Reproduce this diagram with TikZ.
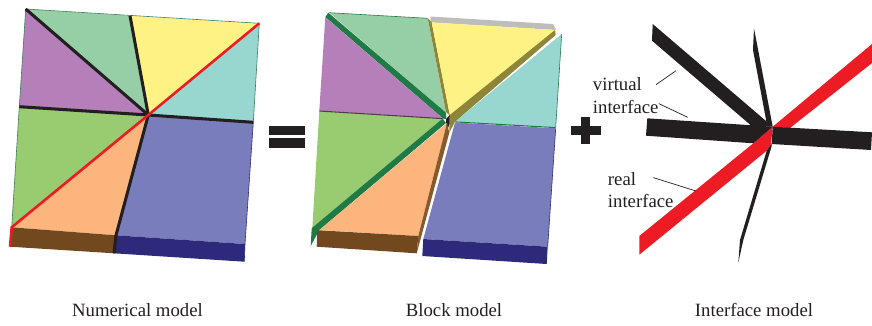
\documentclass[tikz,border=0pt]{standalone}
\usepackage{fontspec}
\setmainfont{Liberation Serif}
\usepackage{tikz}
\usetikzlibrary{calc}
\definecolor{BlockMint}{HTML}{96CFA6}
\definecolor{BlockYellow}{HTML}{FFF284}
\definecolor{BlockCyan}{HTML}{98D6D0}
\definecolor{BlockPurple}{HTML}{B57FBA}
\definecolor{BlockGreen}{HTML}{99CB70}
\definecolor{BlockOrange}{HTML}{FBB57D}
\definecolor{BlockBlue}{HTML}{7A7DBB}
\definecolor{SideBrown}{HTML}{72491F}
\definecolor{SideNavy}{HTML}{2D2A7C}
\definecolor{SideGreen}{HTML}{1F7A45}
\definecolor{SideOlive}{HTML}{8E8538}
\definecolor{SideGrey}{HTML}{BDBDBD}
\definecolor{RealRed}{HTML}{ED1C24}
\definecolor{VirtualBlack}{HTML}{231F20}
\tikzset{
    % Text styles
    caption/.style={
        anchor=base,
        inner sep=0pt,
        font=\fontsize{16}{18}\selectfont,
        text=VirtualBlack
    },
    ifacetext/.style={
        anchor=base west,
        inner sep=0pt,
        font=\fontsize{16}{18}\selectfont,
        text=VirtualBlack
    },
    % Line styles
    virtualline/.style={
        draw=VirtualBlack,
        line width=2.6pt
    },
    realline/.style={
        draw=RealRed,
        line width=2.2pt
    },
    leader/.style={
        draw=VirtualBlack,
        line width=0.6pt
    },
    edgeline/.style={
        draw=#1,
        line width=0.5pt,
        line join=round
    }
}

\begin{document}
\begin{tikzpicture}[x=0.03cm,y=-0.03cm]
    \useasboundingbox (0,0) rectangle (872,325);

    % Numerical model
    \coordinate (nc) at (148.3,115);
    \coordinate (ntl) at (25.7,9);
    \coordinate (ntm) at (130,15.7);
    \coordinate (ntr) at (259.3,23.3);
    \coordinate (nrm) at (253.3,122.3);
    \coordinate (nbr) at (245,244);
    \coordinate (nbm) at (116,235.3);
    \coordinate (nbl) at (11.7,227.3);
    \coordinate (nlm) at (19.3,106.7);
    \coordinate (nbl2) at (10,246.7);
    \coordinate (nbm2) at (114,253.3);
    \coordinate (nbr2) at (244.3,261.7);
    \fill[BlockMint] (ntl) -- (ntm) -- (nc) -- cycle;
    \fill[BlockYellow] (ntm) -- (ntr) -- (nc) -- cycle;
    \fill[BlockCyan] (ntr) -- (nrm) -- (nc) -- cycle;
    \fill[BlockBlue] (nc) -- (nrm) -- (nbr) -- (nbm) -- cycle;
    \fill[BlockOrange] (nc) -- (nbm) -- (nbl) -- cycle;
    \fill[BlockGreen] (nc) -- (nbl) -- (nlm) -- cycle;
    \fill[BlockPurple] (nc) -- (nlm) -- (ntl) -- cycle;
    \fill[SideBrown] (nbl) -- (nbm) -- (nbm2) -- (nbl2) -- cycle;
    \fill[SideNavy] (nbm) -- (nbr) -- (nbr2) -- (nbm2) -- cycle;
    \draw[edgeline=SideGreen!70!gray] (ntl) -- (ntr) -- (nrm);
    \draw[edgeline=SideGreen!70!gray] (ntl) -- (nlm) -- (nbl);
    \draw[edgeline=SideNavy] (nrm) -- (nbr) -- (nbr2);
    % Interfaces on the numerical model
    \draw[virtualline] (ntl) -- (nc);
    \draw[virtualline] (ntm) -- (nc);
    \draw[virtualline] (nlm) -- (nc) -- (nrm);
    \draw[virtualline] (nc) -- (nbm) -- (nbm2);
    \draw[realline] (ntr) -- (nc) -- (nbl) -- (nbl2);

    % Equals sign
    \fill[VirtualBlack] (269,126) rectangle (305,135);
    \fill[VirtualBlack] (269,138.3) rectangle (305,147.7);

    % Block model
    \fill[SideGrey] (430.3,16.5) -- (553,24) -- (556,30) -- (431,22.5) -- cycle;
    \fill[BlockMint] (329.3,12.7) -- (427.7,18.3) -- (446,112.7) -- cycle;
    \draw[edgeline=SideGreen] (329.3,12.7) -- (427.7,18.3);
    \fill[SideGreen] (328.3,12.7) -- (446,112.7) -- (446,119) -- (443,118.5) -- (325.3,17) -- cycle;
    \fill[BlockPurple] (325.3,17.3) -- (442.7,118.3) -- (319.3,110.7) -- cycle;
    \fill[BlockGreen] (319.3,111) -- (442.7,118.5) -- (312.3,228.3) -- cycle;
    \draw[line width=0.9pt,draw=BlockPurple!45!black] (319.3,111) -- (442.7,118.6);
    \fill[SideGreen] (442.7,118.5) -- (446,123) -- (319.3,230) -- (310.7,246) -- (311.7,228.3) -- cycle;
    \fill[SideOlive] (427.7,18) -- (431.7,22.3) -- (450,116) -- (446,112) -- cycle;
    \fill[BlockYellow] (431.7,22.3) -- (555,30) -- (449.8,115) -- cycle;
    \fill[BlockCyan] (561.7,34) -- (555.7,127.3) -- (455,121.7) -- cycle;
    \draw[edgeline=SideGreen] (561.7,34) -- (555.7,127.3);
    \draw[line width=0.9pt,draw=SideGreen] (455,121.9) -- (555.7,127.6);
    \fill[SideOlive] (555,30) -- (555.7,35) -- (455,121.7) -- (449.3,132.7) -- (449.8,115) -- cycle;
    \fill[VirtualBlack] (446,119) -- (449.8,115) -- (449.5,124) -- (446.5,132) -- cycle;
    \fill[BlockOrange] (447,123) -- (418.3,236) -- (319.3,230) -- cycle;
    \fill[SideBrown!85!BlockOrange] (447,123) -- (449.3,132.7) -- (416.7,253.3) -- (418.3,236) -- cycle;
    \fill[SideBrown] (317.3,230.2) -- (418.3,236) -- (416.7,253.3) -- (316.7,246.7) -- cycle;
    \fill[BlockBlue] (455,122.5) -- (555.7,128.3) -- (547.7,246.7) -- (423.3,239) -- cycle;
    \draw[edgeline=SideNavy] (555.7,128.3) -- (547.7,246.7);
    \fill[SideNavy] (423.3,239) -- (547.7,246.7) -- (546.7,264) -- (422.3,256) -- cycle;

    % Plus sign
    \fill[VirtualBlack] (570.7,126) rectangle (600.7,135);
    \fill[VirtualBlack] (580.7,117) rectangle (590,144);

    % Interface model
    \coordinate (ic) at (772.7,126.7);
    \fill[RealRed] (ic) -- (872,44) -- (872,63) -- (790,128) -- cycle;
    \fill[RealRed] (ic) -- (753.3,143.3) -- (639.3,236) -- (639.3,254.7) -- (766.7,150.7) -- (771,144) -- cycle;
    \fill[VirtualBlack] (652.7,24) -- (652,40.7) -- (751.7,126) -- (ic) -- cycle;
    \fill[VirtualBlack] (754,28.3) -- (753,50) -- (766.7,123.3) -- (ic) -- cycle;
    \fill[VirtualBlack] (647.3,118.3) -- (646,135.7) -- (753.3,143.3) -- (ic) -- cycle;
    \fill[VirtualBlack] (ic) -- (872,132.3) -- (871,150) -- (771.7,144) -- cycle;
    \fill[VirtualBlack] (771.7,143.3) -- (766.7,150.7) -- (740,240) -- (738.3,262.7) -- (743.3,240) -- (771.7,146) -- cycle;

    % Labels
    \node[ifacetext] (virtuallabel) at (592.7,90) {virtual};
    \node[ifacetext] (virtualiface) at (592.7,113) {interface};
    \node[ifacetext] (reallabel) at (607.7,185) {real};
    \node[ifacetext] (realiface) at (607.7,207) {interface};
    \coordinate (virtualtipa) at (676,70.7);
    \coordinate (virtualtipb) at (687.7,117.3);
    \coordinate (realtip) at (696,191);
    \draw[leader] ($(virtuallabel.east)+(14,1)$) -- (virtualtipa);
    \draw[leader] ($(virtualiface.north east)+(0,4)$) -- (virtualtipb);
    \draw[leader] ($(reallabel.east)+(17,-1)$) -- (realtip);

    % Captions
    \node[caption] (numcaption) at (137.5,316) {Numerical model};
    \node[caption] (blockcaption) at (454,316) {Block model};
    \node[caption] (ifacecaption) at (754,316) {Interface model};
\end{tikzpicture}
\end{document}
